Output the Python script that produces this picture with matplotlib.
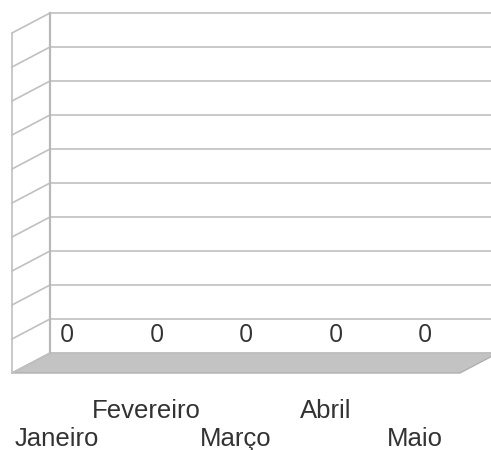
import matplotlib
matplotlib.use("Agg")
import matplotlib.pyplot as plt
from matplotlib.patches import Polygon

categories = ["Janeiro", "Fevereiro", "Março", "Abril", "Maio"]
values = [0, 0, 0, 0, 0]
grid_levels = list(range(0, 11))

W, H = 491, 450
fig = plt.figure(figsize=(W / 100, H / 100), dpi=100)
ax = fig.add_axes([0, 0, 1, 1])
ax.set_xlim(0, W)
ax.set_ylim(H, 0)
ax.axis("off")

# geometry of the pseudo-3D frame (pixels)
bx0, bx1 = 50, 498
by_bot, by_top = 353, 13
ddx, ddy = -38, 20
vmax = grid_levels[-1]
grid_col = "#c0c0c0"


def vy(v):
    return by_bot - (by_bot - by_top) * v / vmax


# floor
floor = Polygon([[bx0, by_bot], [bx1, by_bot], [bx1 + ddx, by_bot + ddy],
                 [bx0 + ddx, by_bot + ddy]], closed=True,
                facecolor="#c3c3c3", edgecolor="#b0b0b0", lw=1)
ax.add_patch(floor)

# back wall gridlines and left wall diagonals
for g in grid_levels:
    y = vy(g)
    ax.plot([bx0, bx1], [y, y], color=grid_col, lw=1.2, solid_capstyle="butt")
    ax.plot([bx0 + ddx, bx0], [y + ddy, y], color=grid_col, lw=1.2)
ax.plot([bx0, bx0], [by_top, by_bot], color="#b8b8b8", lw=1.6)
ax.plot([bx0 + ddx, bx0 + ddx], [by_top + ddy, by_bot + ddy], color=grid_col, lw=1.2)

# category positions along the front floor edge
fx0 = bx0 + ddx
fx1 = bx1 + ddx
step = (fx1 - fx0) / len(categories)
for i, (cat, v) in enumerate(zip(categories, values)):
    cx = fx0 + (i + 0.5) * step
    ax.text(cx + 10, vy(v) - 17, f"{v}", ha="center", va="center",
            fontsize=18, family="Open Sans", color="#333333")
    ty = 411 if i % 2 == 1 else 439
    ax.text(cx, ty, cat, ha="center", va="center", fontsize=18.5,
            family="Liberation Sans", color="#333333")

fig.savefig("out.png", dpi=100)
